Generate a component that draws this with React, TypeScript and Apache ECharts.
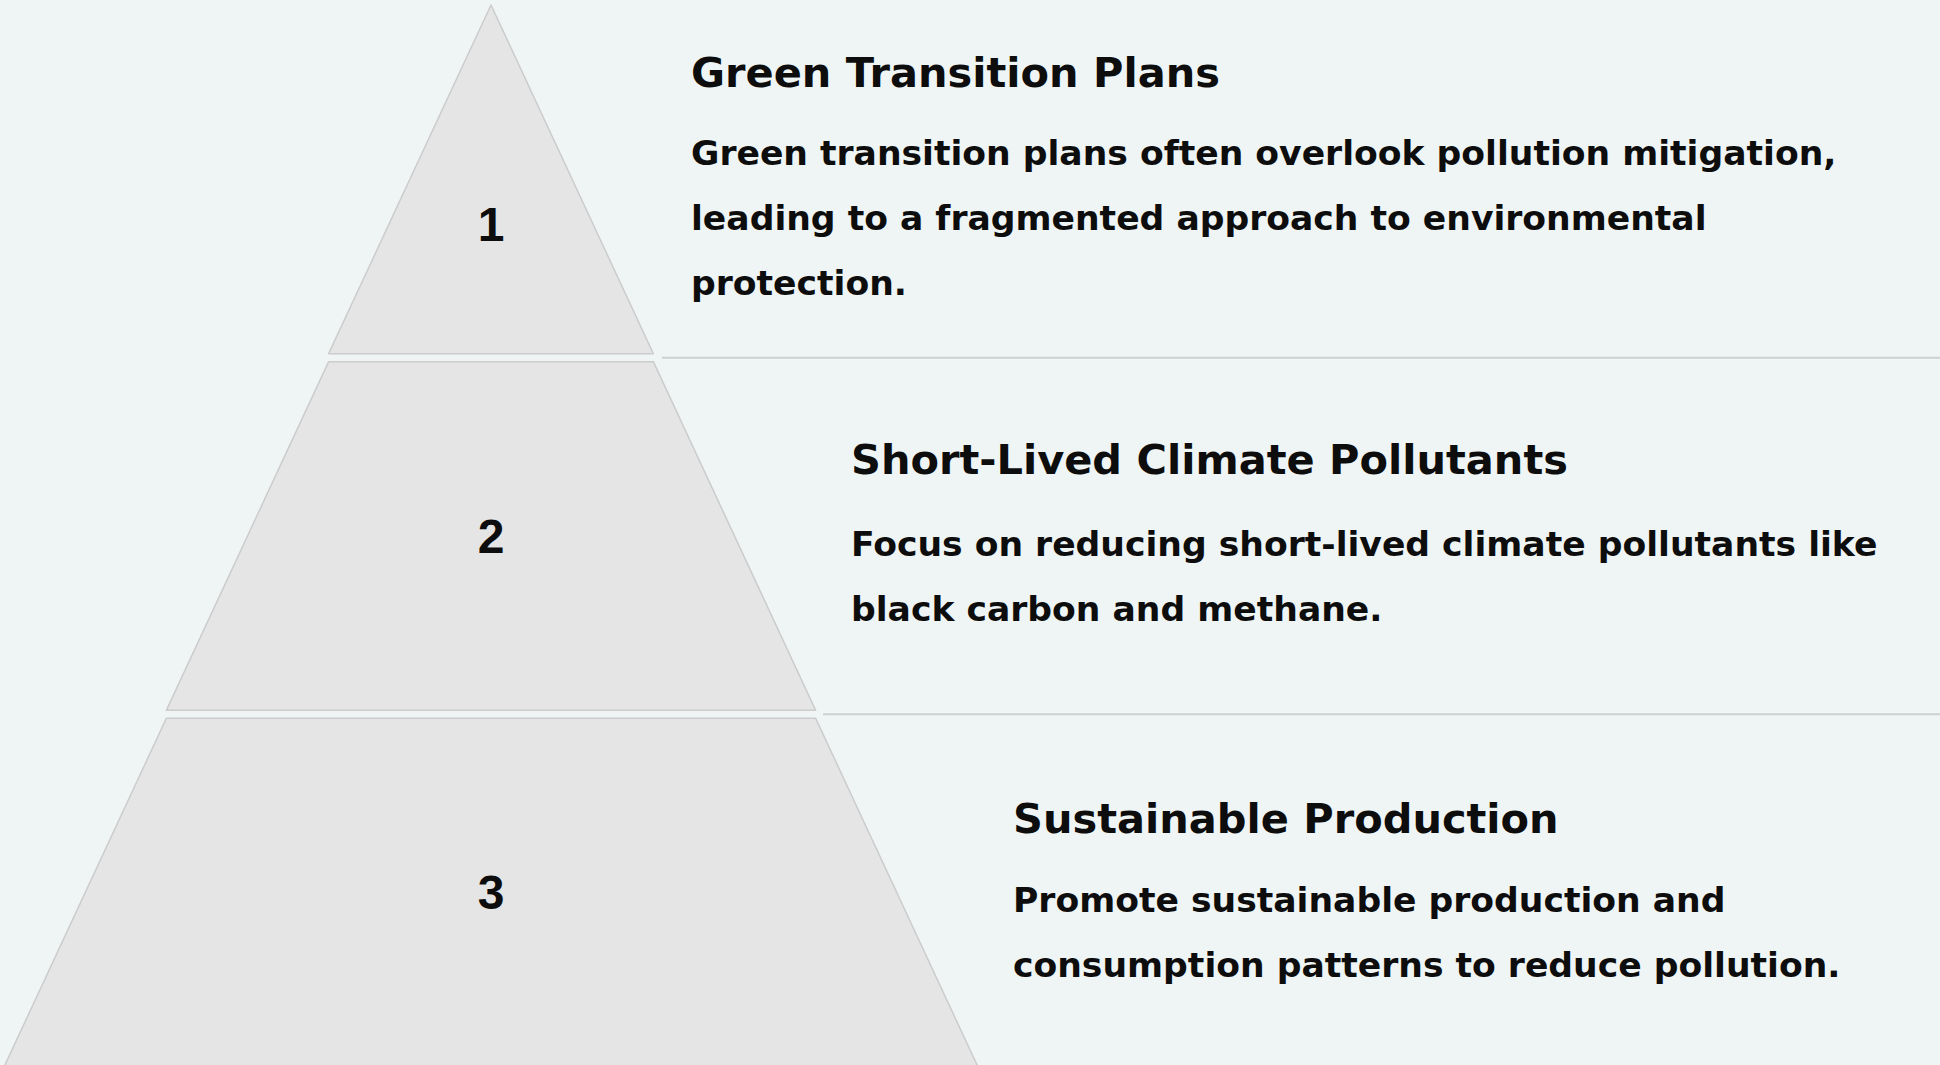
import React, { useEffect, useRef } from 'react';
import * as echarts from 'echarts';

// ---- data ----
const tierLabels = ['1', '2', '3'];
const tierValues = [1, 2, 3];
const titles = ['Green Transition Plans', 'Short-Lived Climate Pollutants', 'Sustainable Production'];
const descriptions = [
  ['Green transition plans often overlook pollution mitigation,', 'leading to a fragmented approach to environmental', 'protection.'],
  ['Focus on reducing short-lived climate pollutants like', 'black carbon and methane.'],
  ['Promote sustainable production and', 'consumption patterns to reduce pollution.'],
];

// ---- layout / style ----
const W = 1940;
const H = 1065;
const FUNNEL = { left: 4, top: 5, width: 974, height: 1062, gap: 8 };
const TEXT_X = [691, 851, 1013];
const TITLE_Y = [72, 459, 818];
const BODY_Y = [153, 544, 900];
const LINE_H = 65;
const LABEL_SHIFT_Y = [45, 0, 0];
const SEP_START_X = [662, 823];
const FONT = '"DejaVu Sans", sans-serif';
const TITLE_SIZE = 41.5;
const BODY_SIZE = 34.6;
const BG = '#eff5f5';
const INK = '#0d0d0d';

export default function App() {
  const ref = useRef<HTMLDivElement>(null);
  useEffect(() => {
    if (!ref.current) return;
    const chart = echarts.init(ref.current, undefined, { renderer: 'svg' });
    const n = tierValues.length;
    const layerH = (FUNNEL.height - FUNNEL.gap * (n - 1)) / n;
    const graphics: any[] = [];
    for (let i = 0; i < n - 1; i++) {
      const y = FUNNEL.top + layerH * (i + 1) + FUNNEL.gap * i + FUNNEL.gap / 2;
      graphics.push({
        type: 'line',
        shape: { x1: SEP_START_X[i], y1: y, x2: W, y2: y },
        style: { stroke: '#cdd0d0', lineWidth: 2 },
        silent: true,
      });
    }
    titles.forEach((t, i) => {
      graphics.push({
        type: 'text',
        x: TEXT_X[i],
        y: TITLE_Y[i],
        style: { text: t, fill: INK, font: `bold ${TITLE_SIZE}px ${FONT}`, verticalAlign: 'middle', align: 'left' },
        silent: true,
      });
      descriptions[i].forEach((line, j) => {
        graphics.push({
          type: 'text',
          x: TEXT_X[i],
          y: BODY_Y[i] + j * LINE_H,
          style: { text: line, fill: INK, font: `bold ${BODY_SIZE}px ${FONT}`, verticalAlign: 'middle', align: 'left' },
          silent: true,
        });
      });
    });
    chart.setOption({
      animation: false,
      backgroundColor: BG,
      graphic: graphics,
      series: [
        {
          type: 'funnel',
          sort: 'ascending',
          left: FUNNEL.left,
          top: FUNNEL.top,
          width: FUNNEL.width,
          height: FUNNEL.height,
          gap: FUNNEL.gap,
          min: 0,
          max: Math.max(...tierValues),
          minSize: '0%',
          maxSize: '100%',
          silent: true,
          itemStyle: { color: '#e5e5e5', borderColor: '#cccccc', borderWidth: 1.5 },
          label: {
            show: true,
            position: 'inside',
            formatter: '{b}',
            color: INK,
            fontFamily: '"Liberation Sans", Arial, sans-serif',
            fontWeight: 'bold',
            fontSize: 48,
          },
          labelLine: { show: false },
          emphasis: { disabled: true },
          data: tierValues.map((v, i) => ({
            value: v,
            name: tierLabels[i],
            label: LABEL_SHIFT_Y[i]
              ? { formatter: '\n{b}', lineHeight: LABEL_SHIFT_Y[i] * 2 }
              : {},
          })),
        },
      ],
    });
    return () => chart.dispose();
  }, []);
  return <div ref={ref} style={{ position: 'fixed', left: 0, top: 0, width: W, height: H }} />;
}
